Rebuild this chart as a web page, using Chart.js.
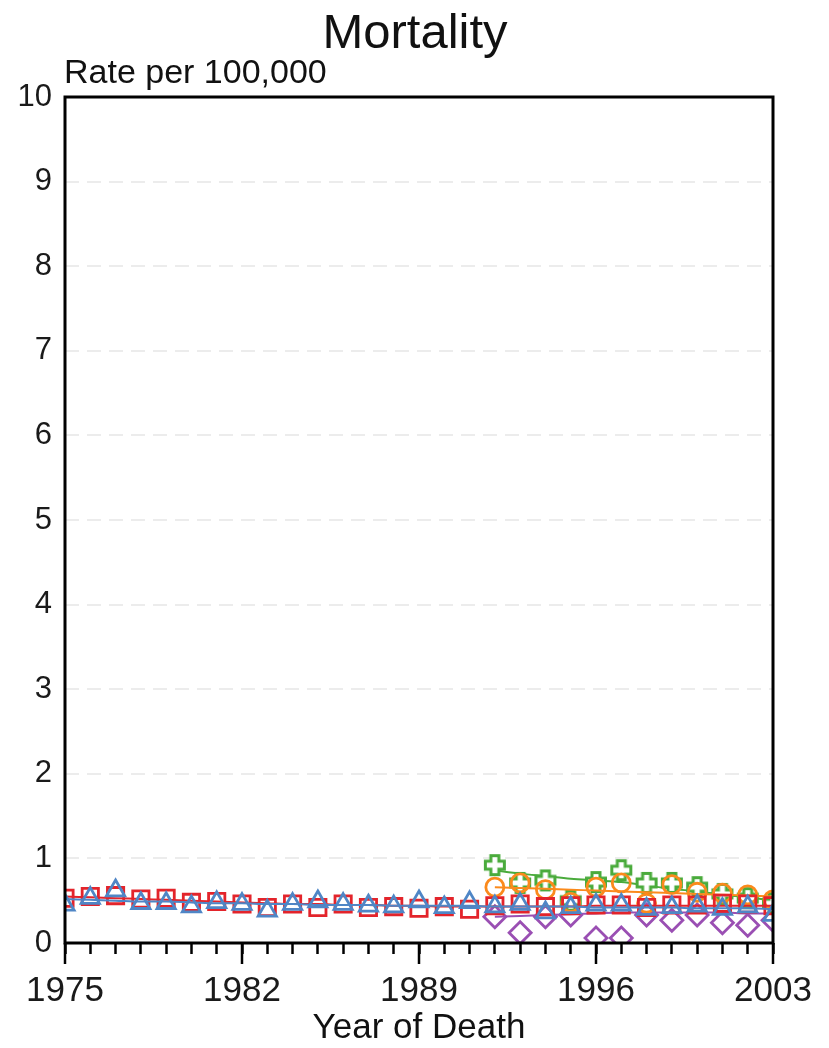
<!DOCTYPE html>
<html>
<head>
<meta charset="utf-8">
<script src="https://cdn.jsdelivr.net/npm/chart.js@4/dist/chart.umd.min.js"></script>
<style>
  html, body { margin: 0; padding: 0; background: #ffffff; }
</style>
</head>
<body>
<canvas id="MortChart" width="829" height="1048"></canvas>
<script>
// values
const years = [1975,1976,1977,1978,1979,1980,1981,1982,1983,1984,1985,1986,1987,1988,1989,
               1990,1991,1992,1993,1994,1995,1996,1997,1998,1999,2000,2001,2002,2003];
const lateYears = [1992,1993,1994,1995,1996,1997,1998,1999,2000,2001,2002,2003];

const redObs  = [0.53,0.55,0.56,0.52,0.53,0.48,0.49,0.46,0.42,0.46,0.42,0.46,0.42,0.43,0.41,
                 0.43,0.40,0.44,0.46,0.43,0.44,0.45,0.45,0.42,0.45,0.45,0.47,0.46,0.44];
const redFit  = [0.55,0.54,0.53,0.52,0.51,0.50,0.49,0.48,0.47,0.46,0.46,0.45,0.45,0.44,0.44,
                 0.43,0.43,0.43,0.43,0.43,0.43,0.44,0.44,0.44,0.44,0.44,0.44,0.44,0.44];
const blueObs = [0.45,0.53,0.62,0.47,0.47,0.43,0.48,0.46,0.38,0.46,0.49,0.46,0.44,0.43,0.49,
                 0.42,0.48,0.43,0.46,0.36,0.42,0.45,0.45,0.40,0.42,0.44,0.40,0.43,0.33];
const blueFit = [0.52,0.51,0.50,0.49,0.49,0.48,0.47,0.47,0.46,0.46,0.45,0.45,0.45,0.44,0.44,
                 0.44,0.44,0.43,0.43,0.43,0.43,0.42,0.42,0.42,0.42,0.41,0.41,0.41,0.40];
const greenObs  = [0.92,0.71,0.74,0.50,0.72,0.86,0.71,0.71,0.66,0.58,0.53,0.47];
const greenFit  = [0.86,0.82,0.79,0.76,0.74,0.72,0.68,0.64,0.61,0.57,0.54,0.50];
const orangeObs = [0.66,0.71,0.63,0.48,0.66,0.71,0.47,0.69,0.60,0.59,0.57,0.51];
const orangeFit = [0.66,0.65,0.64,0.63,0.62,0.61,0.60,0.59,0.58,0.57,0.56,0.55];
const purpleObs = [0.31,0.12,0.31,0.33,0.06,0.06,0.33,0.27,0.33,0.24,0.21,0.27];
const purpleFit = [0.31,0.32,0.33,0.34,0.35,0.36,0.36,0.36,0.36,0.36,0.35,0.35];

const yTicks = [0,1,2,3,4,5,6,7,8,9,10];
const labelYears = [1975,1982,1989,1996,2003];

const RED = '#e3242b', BLUE = '#4f86c6', GREEN = '#4aab3c', ORANGE = '#fb8a1c', PURPLE = '#9a4fb3';
const FONT = '"Liberation Sans", Arial, sans-serif';

function pts(xs, ys) {
    return xs.map((x, i) => ({x: x, y: ys[i]}));
}

// hollow plus marker
function plusMarker(color) {
    const c = document.createElement('canvas');
    c.width = 24; c.height = 24;
    const g = c.getContext('2d');
    const a = 4, b = 9.5; // half arm width, half length
    g.translate(12, 12);
    g.beginPath();
    g.moveTo(-a, -b); g.lineTo(a, -b); g.lineTo(a, -a); g.lineTo(b, -a); g.lineTo(b, a);
    g.lineTo(a, a); g.lineTo(a, b); g.lineTo(-a, b); g.lineTo(-a, a); g.lineTo(-b, a);
    g.lineTo(-b, -a); g.lineTo(-a, -a); g.closePath();
    g.fillStyle = '#ffffff';
    g.fill();
    g.lineWidth = 3;
    g.strokeStyle = color;
    g.stroke();
    return c;
}

function obsSet(data, color, style, radius, order) {
    return {
        data: data, showLine: false, borderColor: color, backgroundColor: 'rgba(255,255,255,0)',
        pointStyle: style, pointRadius: radius, pointBorderWidth: 2.8, order: order
    };
}
function fitSet(data, color, order) {
    return {
        data: data, borderColor: color, borderWidth: 2, pointRadius: 0,
        cubicInterpolationMode: 'monotone', order: order
    };
}

const frame = {
    id: 'frame',
    afterDraw(chart) {
        const ctx = chart.ctx, a = chart.chartArea, xs = chart.scales.x;
        ctx.save();
        ctx.strokeStyle = '#000';
        ctx.lineWidth = 3;
        ctx.strokeRect(a.left, a.top, a.right - a.left, a.bottom - a.top);
        // longer ticks at labelled years
        ctx.lineWidth = 2.5;
        labelYears.forEach(y => {
            const px = xs.getPixelForValue(y);
            ctx.beginPath();
            ctx.moveTo(px, a.bottom);
            ctx.lineTo(px, a.bottom + 21);
            ctx.stroke();
        });
        ctx.fillStyle = '#111';
        ctx.textBaseline = 'alphabetic';
        ctx.textAlign = 'center';
        ctx.font = '49px ' + FONT;
        ctx.fillText('Mortality', 415, 48);
        ctx.textAlign = 'left';
        ctx.font = '34px ' + FONT;
        ctx.fillText('Rate per 100,000', a.left - 1, 83);
        ctx.restore();
    }
};

new Chart(document.getElementById('MortChart'), {
    type: 'line',
    data: {
        datasets: [
            obsSet(pts(years, blueObs), BLUE, 'triangle', 10.5, 1),
            fitSet(pts(years, blueFit), BLUE, 1),
            obsSet(pts(years, redObs), RED, 'rect', 11.5, 2),
            fitSet(pts(years, redFit), RED, 2),
            obsSet(pts(lateYears, orangeObs), ORANGE, 'circle', 9, 3),
            fitSet(pts(lateYears, orangeFit), ORANGE, 3),
            obsSet(pts(lateYears, greenObs), GREEN, plusMarker(GREEN), 10, 4),
            fitSet(pts(lateYears, greenFit), GREEN, 4),
            obsSet(pts(lateYears, purpleObs), PURPLE, 'rectRot', 11, 5),
            fitSet(pts(lateYears, purpleFit), PURPLE, 5)
        ]
    },
    options: {
        responsive: false,
        animation: false,
        layout: { padding: { top: 97, right: 56, left: 0, bottom: 0 } },
        plugins: { legend: { display: false }, tooltip: { enabled: false } },
        scales: {
            x: {
                type: 'linear', min: 1975, max: 2003,
                afterFit(scale) { scale.height = 105; },
                afterBuildTicks(scale) { scale.ticks = years.map(v => ({value: v})); },
                border: { display: false },
                grid: { drawOnChartArea: false, drawTicks: true, tickLength: 11, tickColor: '#000', tickWidth: 2.5 },
                ticks: {
                    color: '#1a1a1a', padding: 16, maxRotation: 0, autoSkip: false,
                    font: { family: FONT, size: 35 },
                    callback: v => labelYears.includes(v) ? String(v) : ''
                },
                title: {
                    display: true, text: 'Year of Death', color: '#111',
                    font: { family: FONT, size: 35 },
                    padding: { top: 0, bottom: -1 }
                }
            },
            y: {
                min: 0, max: 10,
                afterFit(scale) { scale.width = 65; },
                afterBuildTicks(scale) { scale.ticks = yTicks.map(v => ({value: v})); },
                border: { display: false, dash: [14, 8] },
                grid: {
                    drawTicks: false, lineWidth: 2,
                    color: ctx => (ctx.tick && (ctx.tick.value === 0 || ctx.tick.value === 10)) ? 'rgba(0,0,0,0)' : '#ececec'
                },
                ticks: {
                    color: '#1a1a1a', padding: 13,
                    font: { family: FONT, size: 31 }
                }
            }
        }
    },
    plugins: [frame]
});
</script>
</body>
</html>
